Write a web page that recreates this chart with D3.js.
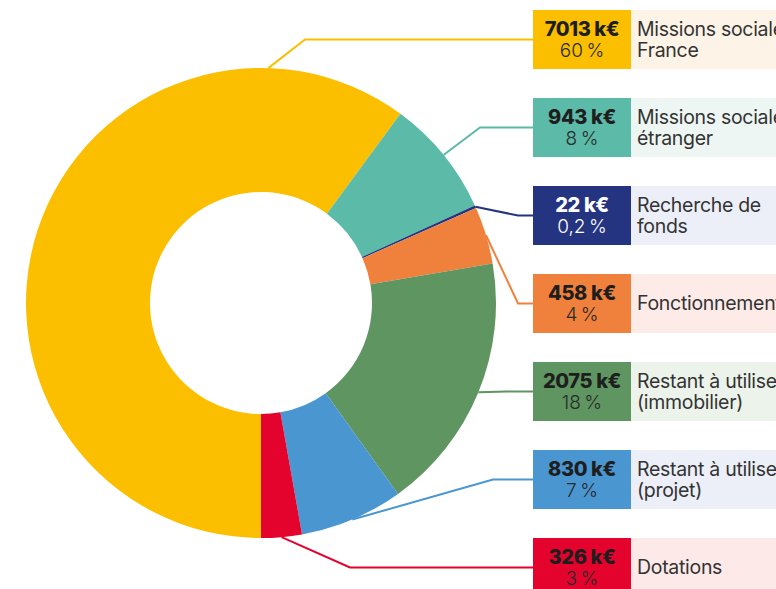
<!DOCTYPE html>
<html>
<head>
<meta charset="utf-8">
<script src="https://cdn.jsdelivr.net/npm/d3@7"></script>
<style>
 body { margin: 0; background: #fff; }
 svg { display: block; font-family: Inter, "Noto Sans", sans-serif; }
</style>
</head>
<body>
<svg width="776" height="589"></svg>
<script>
// data
var values = [7013, 943, 22, 458, 2075, 830, 326];
var percents = ["60\u202f%", "8\u202f%", "0,2\u202f%", "4\u202f%", "18\u202f%", "7\u202f%", "3\u202f%"];
var labels = [
 ["Missions sociales", "France"],
 ["Missions sociales", "étranger"],
 ["Recherche de", "fonds"],
 ["Fonctionnement"],
 ["Restant à utiliser", "(immobilier)"],
 ["Restant à utiliser", "(projet)"],
 ["Dotations"]
];
var colors = ["#fbbf00", "#5bbba8", "#253481", "#f0813c", "#5e9560", "#4a96d0", "#e4032c"];
var tints = ["#fdf4e7", "#eef6f4", "#eceff8", "#fdebe8", "#ecf3ea", "#eceff8", "#fdeae8"];

// where the leader leaves each slice (fraction of the slice) and where it bends
var anchorAt = [0.84, 0.5, 0.5, 0.5, 0.5, 0.5, 0.5];
var elbowX = [305, 480, 518, 518, 507, 493, 350];

var svg = d3.select("svg"),
 width = +svg.attr("width"),
 height = +svg.attr("height");

var cx = 261, cy = 303, outer = 235, inner = 111;

var pie = d3.pie()
 .sort(null)
 .startAngle(Math.PI)
 .endAngle(3 * Math.PI);

var arc = d3.arc().innerRadius(inner).outerRadius(outer);

var arcs = pie(values);

var g = svg.append("g").attr("transform", "translate(" + cx + "," + cy + ")");

g.selectAll("path")
 .data(arcs)
 .enter().append("path")
 .attr("d", arc)
 .attr("fill", function(d, i) { return colors[i]; });

// box rows
var y = d3.scaleBand()
 .domain(d3.range(values.length))
 .range([10, 597])
 .paddingInner(29 / 88);

var boxX = 533, boxW = 98;

// leader lines
var leaders = svg.append("g");
arcs.forEach(function(d, i) {
 var a = d.startAngle + (d.endAngle - d.startAngle) * anchorAt[i];
 var x0 = cx + outer * Math.sin(a),
  y0 = cy - outer * Math.cos(a);
 var ym = y(i) + y.bandwidth() / 2;
 leaders.append("path")
  .attr("d", d3.line()([[x0, y0], [elbowX[i], ym], [boxX, ym]]))
  .attr("fill", "none")
  .attr("stroke", colors[i])
  .attr("stroke-width", 2);
});

var rows = svg.append("g").selectAll("g")
 .data(arcs)
 .enter().append("g")
 .attr("transform", function(d, i) { return "translate(0," + y(i) + ")"; });

rows.append("rect")
 .attr("x", boxX + boxW)
 .attr("width", width - boxX - boxW)
 .attr("height", y.bandwidth())
 .attr("fill", function(d, i) { return tints[i]; });

rows.append("rect")
 .attr("x", boxX)
 .attr("width", boxW)
 .attr("height", y.bandwidth())
 .attr("fill", function(d, i) { return colors[i]; });

var mid = y.bandwidth() / 2;

rows.append("text")
 .attr("x", boxX + boxW / 2)
 .attr("y", mid - 4)
 .attr("text-anchor", "middle")
 .attr("font-size", 20)
 .attr("font-weight", 800)
 .attr("letter-spacing", -0.4)
 .attr("fill", function(d, i) { return i == 2 ? "#fff" : "#1e1e1e"; })
 .text(function(d, i) { return values[i] + " k€"; });

rows.append("text")
 .attr("x", boxX + boxW / 2)
 .attr("y", mid + 17.5)
 .attr("text-anchor", "middle")
 .attr("font-size", 19)
 .attr("font-weight", 300)
 .attr("letter-spacing", -0.2)
 .attr("fill", function(d, i) { return i == 2 ? "#fff" : "#2a2a2a"; })
 .text(function(d, i) { return percents[i]; });

rows.each(function(d, i) {
 var lines = labels[i];
 var t = d3.select(this).append("text")
  .attr("x", boxX + boxW + 6)
  .attr("font-size", 19.5)
  .attr("font-weight", 400)
  .attr("letter-spacing", -0.3)
  .attr("fill", "#333");
 lines.forEach(function(l, j) {
  t.append("tspan")
   .attr("x", boxX + boxW + 6)
   .attr("y", lines.length == 1 ? mid + 6.5 : mid - 3.5 + j * 21)
   .text(l);
 });
});
</script>
</body>
</html>
